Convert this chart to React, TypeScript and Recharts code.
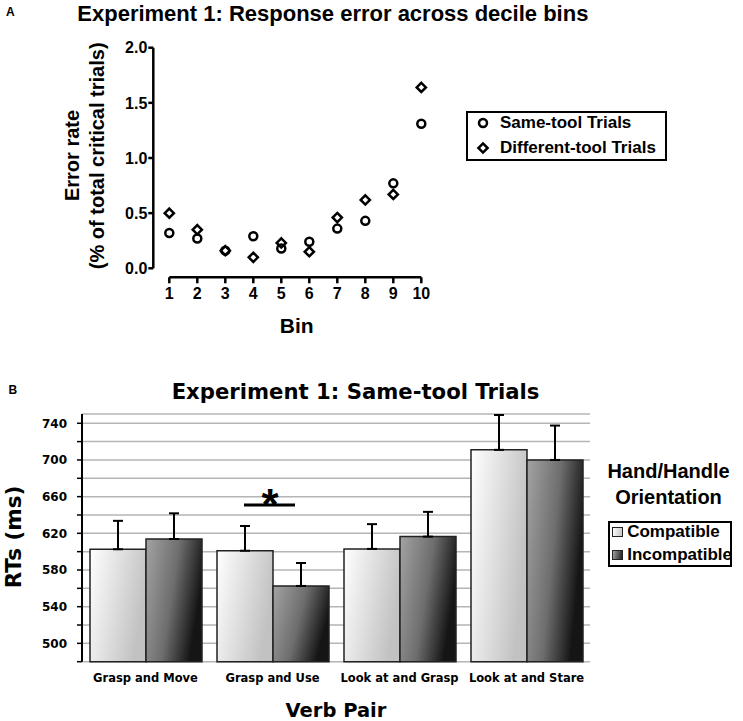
import {
  ScatterChart,
  Scatter,
  BarChart,
  Bar,
  XAxis,
  YAxis,
  CartesianGrid,
  ErrorBar,
  Legend,
  ReferenceDot,
} from "recharts";

const ARIAL = '"Liberation Sans", Arial, sans-serif';
const DEJAVU = '"DejaVu Sans", sans-serif';

// panel A: error rate per decile bin
const bins = [1, 2, 3, 4, 5, 6, 7, 8, 9, 10];
const sameToolRate = [0.32, 0.27, 0.16, 0.29, 0.18, 0.24, 0.36, 0.43, 0.77, 1.31];
const differentToolRate = [0.5, 0.35, 0.16, 0.1, 0.23, 0.15, 0.46, 0.62, 0.67, 1.64];
const errorRateTicks = [0, 0.5, 1, 1.5, 2];
const trialSeries = ["Same-tool Trials", "Different-tool Trials"];

// panel B: RTs per verb pair
const verbPairs = ["Grasp and Move", "Grasp and Use", "Look at and Grasp", "Look at and Stare"];
const compatibleRT = [602.6, 601, 603, 711];
const incompatibleRT = [613.8, 562.6, 616.4, 700];
const compatibleSE = [31, 27, 27, 38];
const incompatibleSE = [28, 25, 27, 37.5];
const rtTicks = [480, 500, 520, 540, 560, 580, 600, 620, 640, 660, 680, 700, 720, 740];
const rtLabelTicks = [500, 540, 580, 620, 660, 700, 740];
const orientationSeries = ["Compatible", "Incompatible"];
const significantPair = "Grasp and Use";
const significanceLevel = 651;

const sameToolData = bins.map((bin, i) => ({ bin, rate: sameToolRate[i] }));
const differentToolData = bins.map((bin, i) => ({ bin, rate: differentToolRate[i] }));

const rtData = verbPairs.map((pair, i) => ({
  pair,
  compatible: compatibleRT[i],
  incompatible: incompatibleRT[i],
  compatibleErr: [0, compatibleSE[i]],
  incompatibleErr: [0, incompatibleSE[i]],
}));
const pairEdges = [0, 1, 2, 3, 4];

const byOrder = (order: string[]) => (payload: any[] = []) =>
  [...payload].sort((a, b) => order.indexOf(a.value) - order.indexOf(b.value));

const OpenCircle = (props: any) => (
  <circle cx={props.cx} cy={props.cy} r={4} fill="none" stroke="#000" strokeWidth={2.5} />
);

const OpenDiamond = (props: any) => {
  const { cx, cy } = props;
  const d = 4.6;
  return (
    <polygon
      points={`${cx},${cy - d} ${cx + d},${cy} ${cx},${cy + d} ${cx - d},${cy}`}
      fill="none"
      stroke="#000"
      strokeWidth={2.5}
    />
  );
};

function ErrorLegend({ payload }: any) {
  return (
    <div
      style={{
        width: 196.7,
        height: 45.7,
        border: "2px solid #000",
        position: "relative",
        background: "#fff",
        fontFamily: ARIAL,
        fontWeight: 700,
        fontSize: 17,
        color: "#000",
      }}
    >
      {byOrder(trialSeries)(payload).map((entry: any, i: number) => (
        <div
          key={entry.value}
          style={{
            position: "absolute",
            left: 7.3,
            top: i * 25 - 2.2,
            height: 25,
            display: "flex",
            alignItems: "center",
            whiteSpace: "nowrap",
          }}
        >
          <svg width={16} height={16}>
            {entry.type === "diamond" ? (
              <OpenDiamond cx={8} cy={8} />
            ) : (
              <OpenCircle cx={8} cy={8} />
            )}
          </svg>
          <span style={{ marginLeft: 8.7 }}>{entry.value}</span>
        </div>
      ))}
    </div>
  );
}

const swatches: Record<string, string> = {
  compatible: "linear-gradient(100deg, #ffffff, #c4c4c4)",
  incompatible: "linear-gradient(100deg, #a0a0a0, #202020)",
};

function OrientationLegend({ payload }: any) {
  const title = {
    position: "absolute" as const,
    left: 0,
    width: 137,
    textAlign: "center" as const,
    fontSize: 20,
    lineHeight: "20px",
  };
  return (
    <div
      style={{
        position: "relative",
        width: 143,
        height: 120,
        fontFamily: ARIAL,
        fontWeight: 700,
        color: "#000",
      }}
    >
      <div style={{ ...title, top: 15.7 - 9.8 }}>Hand/Handle</div>
      <div style={{ ...title, top: 41.7 - 9.8 }}>Orientation</div>
      <div
        style={{
          position: "absolute",
          left: 7.7,
          top: 65.7,
          width: 120.6,
          height: 42,
          border: "2.5px solid #000",
          background: "#fff",
          fontSize: 17,
        }}
      >
        {byOrder(orientationSeries)(payload).map((entry: any, i: number) => (
          <div
            key={entry.value}
            style={{
              position: "absolute",
              left: 2.5,
              top: i * 23 - 2,
              height: 23,
              display: "flex",
              alignItems: "center",
              whiteSpace: "nowrap",
            }}
          >
            <span
              style={{
                display: "inline-block",
                width: 8.7,
                height: 8,
                border: "1px solid #222",
                background: swatches[entry.dataKey],
              }}
            />
            <span style={{ marginLeft: 4.3 }}>{entry.value}</span>
          </div>
        ))}
      </div>
    </div>
  );
}

const SignificanceMark = (props: any) => {
  const { cx, cy } = props;
  return (
    <g>
      <line x1={cx - 28.5} x2={cx + 22.5} y1={cy} y2={cy} stroke="#000" strokeWidth={3} />
      <text
        x={cx - 2.5}
        y={cy + 15}
        textAnchor="middle"
        fontFamily={ARIAL}
        fontWeight={700}
        fontSize={44}
        fill="#000"
      >
        *
      </text>
    </g>
  );
};

export default function App() {
  return (
    <div
      style={{
        position: "absolute",
        left: 0,
        top: 0,
        width: 743,
        height: 721,
        background: "#fff",
        overflow: "hidden",
      }}
    >
      <div style={{ position: "absolute", left: 0, top: 0 }}>
        <ScatterChart
          width={743}
          height={350}
          margin={{ top: 47.7, right: 311.7, bottom: 42.7, left: 93.3 }}
        >
          <XAxis
            type="number"
            dataKey="bin"
            domain={[1, 10]}
            ticks={bins}
            interval={0}
            padding={{ left: 16, right: 10 }}
            height={30}
            axisLine={{ stroke: "#000", strokeWidth: 2.5, strokeDasharray: "0 16 252 40" }}
            tickLine={{ stroke: "#000", strokeWidth: 2.5 }}
            tickSize={6}
            tickMargin={4}
            tick={{ fontFamily: ARIAL, fontSize: 16, fontWeight: 700, fill: "#000" }}
          />
          <YAxis
            type="number"
            dataKey="rate"
            domain={[0, 2]}
            ticks={errorRateTicks}
            interval={0}
            padding={{ top: 0, bottom: 9 }}
            width={60}
            tickFormatter={(v: number) => v.toFixed(1)}
            axisLine={{ stroke: "#000", strokeWidth: 2.5, strokeDasharray: "220.6 40" }}
            tickLine={{ stroke: "#000", strokeWidth: 2.5 }}
            tickSize={5}
            tickMargin={1}
            tick={{ fontFamily: ARIAL, fontSize: 16, fontWeight: 700, fill: "#000" }}
          />
          <Legend
            layout="vertical"
            align="center"
            verticalAlign="middle"
            wrapperStyle={{ left: 466, top: 111, width: 201 }}
            content={ErrorLegend}
          />
          <Scatter
            name={trialSeries[0]}
            data={sameToolData}
            legendType="circle"
            shape={OpenCircle}
            isAnimationActive={false}
          />
          <Scatter
            name={trialSeries[1]}
            data={differentToolData}
            legendType="diamond"
            shape={OpenDiamond}
            isAnimationActive={false}
          />
        </ScatterChart>
      </div>

      <div style={{ position: "absolute", left: 0, top: 372 }}>
        <BarChart
          width={743}
          height={349}
          data={rtData}
          margin={{ top: 42.1, right: 153, bottom: 29.3, left: 32 }}
          barCategoryGap={8}
          barGap={0}
        >
          <defs>
            <linearGradient id="gradCompatible" x1="0" y1="0" x2="1" y2="0.35">
              <stop offset="0%" stopColor="#ffffff" />
              <stop offset="100%" stopColor="#c2c2c2" />
            </linearGradient>
            <linearGradient id="gradIncompatible" x1="0" y1="0" x2="1" y2="0.35">
              <stop offset="0%" stopColor="#a3a3a3" />
              <stop offset="55%" stopColor="#6e6e6e" />
              <stop offset="100%" stopColor="#151515" />
            </linearGradient>
          </defs>
          <XAxis
            xAxisId="edge"
            type="number"
            domain={[0, verbPairs.length]}
            ticks={pairEdges}
            interval={0}
            height={0}
            tick={false}
            tickSize={5}
            axisLine={{ stroke: "#000", strokeWidth: 2 }}
            tickLine={{ stroke: "#000", strokeWidth: 2 }}
          />
          <XAxis
            xAxisId="cat"
            dataKey="pair"
            height={30}
            interval={0}
            axisLine={false}
            tickLine={false}
            tickSize={0}
            tickMargin={12}
            tick={{ fontFamily: DEJAVU, fontSize: 11.5, fontWeight: 700, fill: "#000" }}
          />
          <YAxis
            domain={[480, 750]}
            ticks={rtTicks}
            interval={0}
            width={50}
            tickFormatter={(v: number) => (rtLabelTicks.includes(v) ? String(v) : "")}
            axisLine={{ stroke: "#000", strokeWidth: 2 }}
            tickLine={{ stroke: "#000", strokeWidth: 1.5 }}
            tickSize={5}
            tickMargin={10}
            tick={{ fontFamily: DEJAVU, fontSize: 12, fontWeight: 700, fill: "#000" }}
          />
          <CartesianGrid
            xAxisId="cat"
            vertical={false}
            stroke="#b5b5b5"
            strokeWidth={1.5}
          />
          <Legend
            layout="vertical"
            align="center"
            verticalAlign="middle"
            wrapperStyle={{ left: 600, top: 83, width: 143 }}
            content={OrientationLegend}
          />
          <Bar
            xAxisId="cat"
            dataKey="compatible"
            name={orientationSeries[0]}
            fill="url(#gradCompatible)"
            stroke="#222"
            strokeWidth={1.5}
            isAnimationActive={false}
          >
            <ErrorBar dataKey="compatibleErr" width={5} stroke="#000" strokeWidth={2} />
          </Bar>
          <Bar
            xAxisId="cat"
            dataKey="incompatible"
            name={orientationSeries[1]}
            fill="url(#gradIncompatible)"
            stroke="#222"
            strokeWidth={1.5}
            isAnimationActive={false}
          >
            <ErrorBar dataKey="incompatibleErr" width={5} stroke="#000" strokeWidth={2} />
          </Bar>
          <ReferenceDot
            xAxisId="cat"
            x={significantPair}
            y={significanceLevel}
            shape={SignificanceMark}
          />
        </BarChart>
      </div>

      <svg
        width={743}
        height={721}
        style={{ position: "absolute", left: 0, top: 0, pointerEvents: "none" }}
      >
        <g fontWeight={700} fill="#000">
          <text x={6} y={12} fontFamily={ARIAL} fontSize={12} dominantBaseline="central">
            A
          </text>
          <text x={77.3} y={13.3} fontFamily={ARIAL} fontSize={22} dominantBaseline="central">
            Experiment 1: Response error across decile bins
          </text>
          <text
            transform="translate(71.7,155.5) rotate(-90)"
            textAnchor="middle"
            dominantBaseline="central"
            fontFamily={ARIAL}
            fontSize={20}
          >
            Error rate
          </text>
          <text
            transform="translate(96.7,155.8) rotate(-90)"
            textAnchor="middle"
            dominantBaseline="central"
            fontFamily={ARIAL}
            fontSize={20}
          >
            (% of total critical trials)
          </text>
          <text
            x={296.7}
            y={325}
            textAnchor="middle"
            dominantBaseline="central"
            fontFamily={ARIAL}
            fontSize={21}
          >
            Bin
          </text>
          <text x={8.5} y={390} fontFamily={ARIAL} fontSize={12} dominantBaseline="central">
            B
          </text>
          <text
            x={355.5}
            y={391}
            textAnchor="middle"
            dominantBaseline="central"
            fontFamily={DEJAVU}
            fontSize={21.2}
          >
            Experiment 1: Same-tool Trials
          </text>
          <text
            transform="translate(13,537) rotate(-90)"
            textAnchor="middle"
            dominantBaseline="central"
            fontFamily={DEJAVU}
            fontSize={21.5}
          >
            RTs (ms)
          </text>
          <text
            x={336}
            y={710}
            textAnchor="middle"
            dominantBaseline="central"
            fontFamily={DEJAVU}
            fontSize={19.5}
          >
            Verb Pair
          </text>
        </g>
      </svg>
    </div>
  );
}
